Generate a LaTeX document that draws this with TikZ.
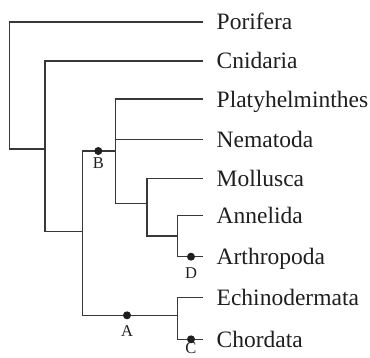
\documentclass[tikz,border=0pt]{standalone}
\usepackage{fontspec}
\setmainfont{Liberation Serif}
\begin{document}
\begin{tikzpicture}[x=1pt,y=-1pt,
  branch/.style={draw=black!78, line width=1.1pt},
  taxon/.style={anchor=base west, inner sep=0pt, font=\fontsize{23.5}{26}\selectfont, text=black!88},
  mark dot/.style={circle, fill=black!88, inner sep=0pt, minimum size=8pt},
  marklabel/.style={inner sep=0pt, font=\fontsize{16.5}{18}\selectfont, text=black!88}]
\useasboundingbox (0,0) rectangle (370,358);
% leaf tips
\coordinate (tP)  at (203.3,22);
\coordinate (tC)  at (203.3,61);
\coordinate (tPl) at (203.3,99);
\coordinate (tN)  at (203.3,139.3);
\coordinate (tM)  at (203.3,178.3);
\coordinate (tAn) at (203.3,215.7);
\coordinate (tAr) at (203.3,256.7);
\coordinate (tE)  at (203.3,297.7);
\coordinate (tCh) at (203.3,339.3);
% internal nodes
\coordinate (r)  at (9.3,149);
\coordinate (n1) at (45,149);
\coordinate (nB) at (82.7,231.7);
\coordinate (n3) at (115.7,151);
\coordinate (n4) at (147,203.7);
\coordinate (n5) at (177.7,236);
\coordinate (n6) at (177.7,315.3);
% labels
\node[taxon] (lP)  at (216.5,30)    {Porifera};
\node[taxon] (lC)  at (216.5,69)    {Cnidaria};
\node[taxon] (lPl) at (216.5,107.3) {Platyhelminthes};
\node[taxon] (lN)  at (216.5,147.3) {Nematoda};
\node[taxon] (lM)  at (216.5,186.3) {Mollusca};
\node[taxon] (lAn) at (216.5,223.7) {Annelida};
\node[taxon] (lAr) at (216.5,264.7) {Arthropoda};
\node[taxon] (lE)  at (216.5,305.7) {Echinodermata};
\node[taxon] (lCh) at (216.5,347.3) {Chordata};
% branches
\path[branch] (r) |- (tP);
\path[branch] (r) |- (n1);
\path[branch] (n1) |- (tC);
\path[branch] (n1) |- (nB);
\path[branch] (nB) |- (n3);
\path[branch] (nB) |- (n6);
\path[branch] (n3) |- (tPl);
\path[branch] (n3) |- (tN);
\path[branch] (n3) |- (n4);
\path[branch] (n4) |- (tM);
\path[branch] (n4) |- (n5);
\path[branch] (n5) |- (tAn);
\path[branch] (n5) |- (tAr);
\path[branch] (n6) |- (tE);
\path[branch] (n6) |- (tCh);
% marks
\node[mark dot] (dB) at (98.3,151) {};
\node[mark dot] (dA) at (127,315.3) {};
\node[mark dot] (dD) at (191,256.7) {};
\node[mark dot] (dC) at (191,339.3) {};
\node[marklabel] (lB) at (98.3,162.8) {B};
\node[marklabel] (lA) at (127,331.3) {A};
\node[marklabel] (lD) at (191,273.3) {D};
\node[marklabel] (lCC) at (191,348) {C};
\end{tikzpicture}
\end{document}
